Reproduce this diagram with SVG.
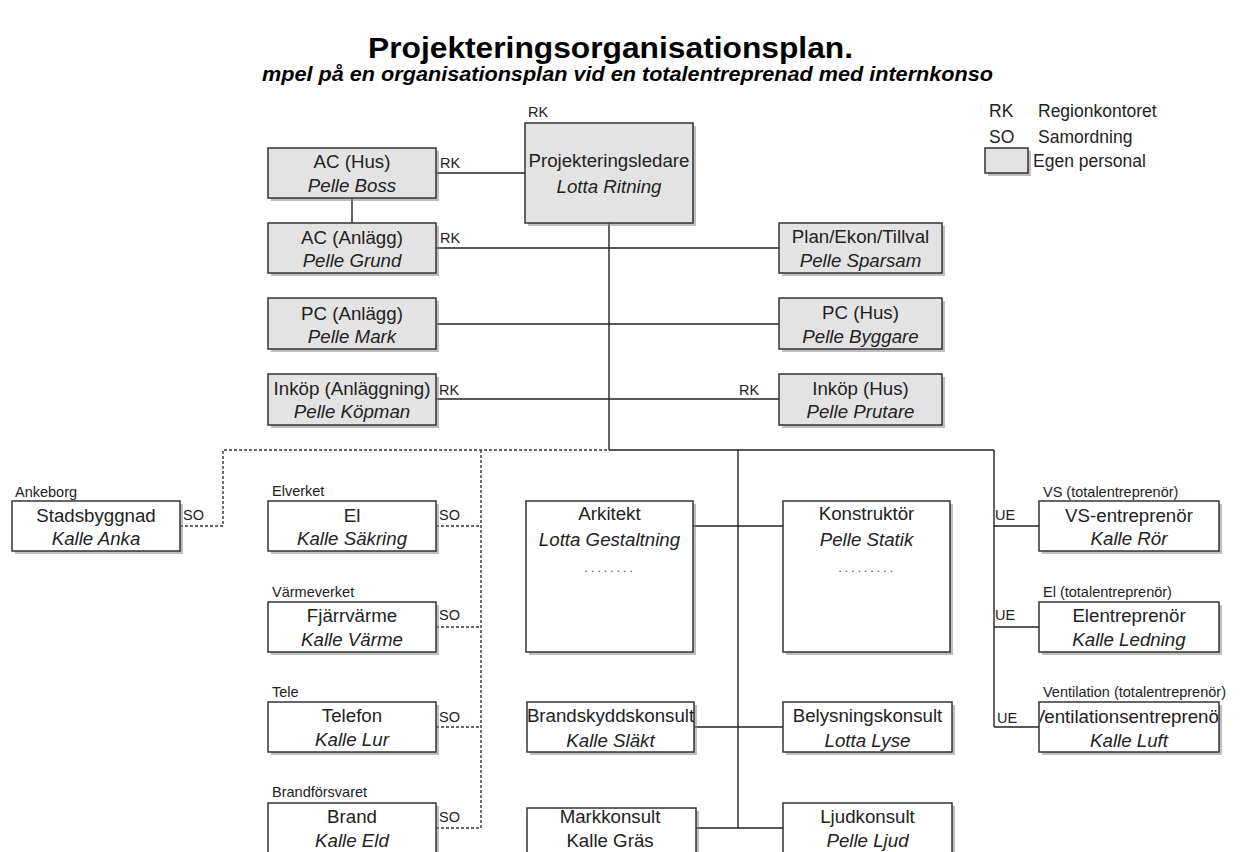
<svg xmlns="http://www.w3.org/2000/svg" width="1240" height="852" viewBox="0 0 1240 852">
<style>
text{font-family:"Liberation Sans",Arial,sans-serif;fill:#222}
.t{font-size:18.7px;text-anchor:middle}
.i{font-style:italic}
.s{font-size:14.5px}
.lg{font-size:17.5px}
.box{stroke:#333;stroke-width:1.5}
.g{fill:#e3e3e3}
.w{fill:#fff}
.sh{fill:#8a8a8a;opacity:.55}
.c line,.c polyline{stroke:#222;stroke-width:1.4;fill:none}
.c .d{stroke-dasharray:3 2;stroke:#333}
.dots{font-size:13px;text-anchor:middle;letter-spacing:2.8px;fill:#555}
</style>
<defs>
<clipPath id="cv"><rect x="1040" y="703" width="178" height="48"/></clipPath>
</defs>
<rect width="1240" height="852" fill="#fff"/>
<text x="368" y="58" font-size="30" font-weight="bold" textLength="485" lengthAdjust="spacingAndGlyphs" style="fill:#000">Projekteringsorganisationsplan.</text>
<text x="262" y="81" font-size="20" font-weight="bold" font-style="italic" textLength="731" lengthAdjust="spacingAndGlyphs" style="fill:#000">mpel på en organisationsplan vid en totalentreprenad med internkonso</text>

<g id="legend">
<text class="lg" x="989" y="117">RK</text><text class="lg" x="1038" y="117">Regionkontoret</text>
<text class="lg" x="989" y="143">SO</text><text class="lg" x="1038" y="143">Samordning</text>
<rect class="sh" x="988" y="151" width="43" height="25"/>
<rect class="box g" x="985" y="148" width="43" height="25"/>
<text class="lg" x="1033" y="167">Egen personal</text>
</g>

<g class="c" id="connectors">
<line x1="436" y1="173" x2="525" y2="173"/>
<line x1="352" y1="198" x2="352" y2="223"/>
<line x1="436" y1="248" x2="779" y2="248"/>
<line x1="609" y1="223" x2="609" y2="450"/>
<line x1="436" y1="324" x2="779" y2="324"/>
<line x1="436" y1="399" x2="779" y2="399"/>
<line x1="609" y1="450" x2="994" y2="450"/>
<line x1="738" y1="450" x2="738" y2="828"/>
<line x1="994" y1="450" x2="994" y2="727"/>
<line x1="693" y1="526" x2="783" y2="526"/>
<line x1="694" y1="727" x2="783" y2="727"/>
<line x1="696" y1="828" x2="783" y2="828"/>
<line x1="994" y1="526" x2="1039" y2="526"/>
<line x1="994" y1="627" x2="1039" y2="627"/>
<line x1="994" y1="727" x2="1039" y2="727"/>
<polyline class="d" points="180,526 223,526 223,450 609,450"/>
<line class="d" x1="481" y1="450" x2="481" y2="828"/>
<line class="d" x1="436" y1="526" x2="481" y2="526"/>
<line class="d" x1="436" y1="627" x2="481" y2="627"/>
<line class="d" x1="436" y1="727" x2="481" y2="727"/>
<line class="d" x1="436" y1="828" x2="481" y2="828"/>
</g>

<g id="proj">
<text class="s" x="528" y="117">RK</text>
<rect class="sh" x="528" y="126" width="168" height="100"/>
<rect class="box g" x="525" y="123" width="168" height="100"/>
<text class="t" x="609" y="167">Projekteringsledare</text>
<text class="t i" x="609" y="193">Lotta Ritning</text>
</g>
<g id="achus">
<rect class="sh" x="271" y="151" width="168" height="50"/>
<rect class="box g" x="268" y="148" width="168" height="50"/>
<text class="t" x="352" y="168">AC (Hus)</text>
<text class="t i" x="352" y="192">Pelle Boss</text>
<text class="s" x="440" y="168">RK</text>
</g>
<g id="acanl">
<rect class="sh" x="271" y="226" width="168" height="50"/>
<rect class="box g" x="268" y="223" width="168" height="50"/>
<text class="t" x="352" y="244">AC (Anlägg)</text>
<text class="t i" x="352" y="267">Pelle Grund</text>
<text class="s" x="440" y="243">RK</text>
</g>
<g id="plan">
<rect class="sh" x="782" y="226" width="163" height="50"/>
<rect class="box g" x="779" y="223" width="163" height="50"/>
<text class="t" x="860.5" y="243">Plan/Ekon/Tillval</text>
<text class="t i" x="860.5" y="267">Pelle Sparsam</text>
</g>
<g id="pcanl">
<rect class="sh" x="271" y="301" width="168" height="51"/>
<rect class="box g" x="268" y="298" width="168" height="51"/>
<text class="t" x="352" y="320">PC (Anlägg)</text>
<text class="t i" x="352" y="343">Pelle Mark</text>
</g>
<g id="pchus">
<rect class="sh" x="782" y="301" width="163" height="51"/>
<rect class="box g" x="779" y="298" width="163" height="51"/>
<text class="t" x="860.5" y="319">PC (Hus)</text>
<text class="t i" x="860.5" y="343">Pelle Byggare</text>
</g>
<g id="inkanl">
<rect class="sh" x="271" y="377" width="168" height="51"/>
<rect class="box g" x="268" y="374" width="168" height="51"/>
<text class="t" x="352" y="395">Inköp (Anläggning)</text>
<text class="t i" x="352" y="418">Pelle Köpman</text>
<text class="s" x="439" y="395">RK</text>
</g>
<g id="inkhus">
<rect class="sh" x="782" y="377" width="163" height="51"/>
<rect class="box g" x="779" y="374" width="163" height="51"/>
<text class="t" x="860.5" y="395">Inköp (Hus)</text>
<text class="t i" x="860.5" y="418">Pelle Prutare</text>
<text class="s" x="739" y="395">RK</text>
</g>

<g id="stads">
<text class="s" x="15" y="497">Ankeborg</text>
<rect class="sh" x="15" y="504" width="168" height="50"/>
<rect class="box w" x="12" y="501" width="168" height="50"/>
<text class="t" x="96" y="522">Stadsbyggnad</text>
<text class="t i" x="96" y="545">Kalle Anka</text>
<text class="s" x="183" y="520">SO</text>
</g>
<g id="el">
<text class="s" x="272" y="496">Elverket</text>
<rect class="sh" x="271" y="504" width="168" height="50"/>
<rect class="box w" x="268" y="501" width="168" height="50"/>
<text class="t" x="352" y="522">El</text>
<text class="t i" x="352" y="545">Kalle Säkring</text>
<text class="s" x="439" y="520">SO</text>
</g>
<g id="fjarr">
<text class="s" x="272" y="597">Värmeverket</text>
<rect class="sh" x="271" y="605" width="168" height="50"/>
<rect class="box w" x="268" y="602" width="168" height="50"/>
<text class="t" x="352" y="622">Fjärrvärme</text>
<text class="t i" x="352" y="646">Kalle Värme</text>
<text class="s" x="439" y="620">SO</text>
</g>
<g id="tele">
<text class="s" x="272" y="697">Tele</text>
<rect class="sh" x="271" y="705" width="168" height="50"/>
<rect class="box w" x="268" y="702" width="168" height="50"/>
<text class="t" x="352" y="722">Telefon</text>
<text class="t i" x="352" y="746">Kalle Lur</text>
<text class="s" x="439" y="722">SO</text>
</g>
<g id="brand">
<text class="s" x="272" y="797">Brandförsvaret</text>
<rect class="sh" x="271" y="806" width="168" height="50"/>
<rect class="box w" x="268" y="803" width="168" height="50"/>
<text class="t" x="352" y="823">Brand</text>
<text class="t i" x="352" y="847">Kalle Eld</text>
<text class="s" x="439" y="822">SO</text>
</g>

<g id="ark">
<rect class="sh" x="529" y="504" width="167" height="151"/>
<rect class="box w" x="526" y="501" width="167" height="151"/>
<text class="t" x="609.5" y="520">Arkitekt</text>
<text class="t i" x="609.5" y="546">Lotta Gestaltning</text>
<text class="dots" x="610" y="572">........</text>
</g>
<g id="konst">
<rect class="sh" x="786" y="504" width="167" height="151"/>
<rect class="box w" x="783" y="501" width="167" height="151"/>
<text class="t" x="866.5" y="520">Konstruktör</text>
<text class="t i" x="866.5" y="546">Pelle Statik</text>
<text class="dots" x="867" y="572">.........</text>
</g>
<g id="brandsk">
<rect class="sh" x="530" y="705" width="167" height="50"/>
<rect class="box w" x="527" y="702" width="167" height="50"/>
<text class="t" x="610.5" y="722">Brandskyddskonsult</text>
<text class="t i" x="610.5" y="747">Kalle Släkt</text>
</g>
<g id="belys">
<rect class="sh" x="786" y="705" width="169" height="50"/>
<rect class="box w" x="783" y="702" width="169" height="50"/>
<text class="t" x="867.5" y="722">Belysningskonsult</text>
<text class="t i" x="867.5" y="747">Lotta Lyse</text>
</g>
<g id="mark">
<rect class="sh" x="530" y="811" width="169" height="50"/>
<rect class="box w" x="527" y="808" width="169" height="50"/>
<text class="t" x="610" y="823">Markkonsult</text>
<text class="t" x="610" y="847">Kalle Gräs</text>
</g>
<g id="ljud">
<rect class="sh" x="786" y="806" width="169" height="50"/>
<rect class="box w" x="783" y="803" width="169" height="50"/>
<text class="t" x="867.5" y="823">Ljudkonsult</text>
<text class="t i" x="867.5" y="847">Pelle Ljud</text>
</g>

<g id="vs">
<text class="s" x="1043" y="497">VS (totalentreprenör)</text>
<rect class="sh" x="1042" y="504" width="180" height="50"/>
<rect class="box w" x="1039" y="501" width="180" height="50"/>
<text class="t" x="1129" y="522">VS-entreprenör</text>
<text class="t i" x="1129" y="545">Kalle Rör</text>
<text class="s" x="995" y="520">UE</text>
</g>
<g id="elent">
<text class="s" x="1043" y="597">El (totalentreprenör)</text>
<rect class="sh" x="1042" y="605" width="180" height="50"/>
<rect class="box w" x="1039" y="602" width="180" height="50"/>
<text class="t" x="1129" y="622">Elentreprenör</text>
<text class="t i" x="1129" y="646">Kalle Ledning</text>
<text class="s" x="995" y="620">UE</text>
</g>
<g id="vent">
<text class="s" x="1043" y="697">Ventilation (totalentreprenör)</text>
<rect class="sh" x="1042" y="705" width="180" height="50"/>
<rect class="box w" x="1039" y="702" width="180" height="50"/>
<text class="t" x="1129" y="723" clip-path="url(#cv)">Ventilationsentreprenör</text>
<text class="t i" x="1129" y="747">Kalle Luft</text>
<text class="s" x="997" y="723">UE</text>
</g>
</svg>
